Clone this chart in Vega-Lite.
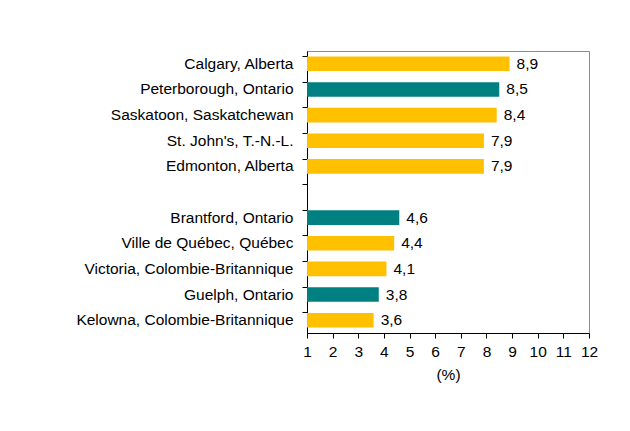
{
  "$schema": "https://vega.github.io/schema/vega-lite/v6.json",
  "width": 282,
  "height": 282,
  "autosize": {"type": "none"},
  "padding": {"left": 307, "top": 51, "right": 41, "bottom": 98},
  "background": "white",
  "config": {
    "view": {"stroke": "#8c8c8c", "strokeWidth": 1},
    "font": "Liberation Sans",
    "axisX": {"labelOverlap": false, "labelFlush": false},
    "locale": {"number": {"decimal": ",", "thousands": " ", "grouping": [3], "currency": ["", " $"]}}
  },
  "data": {
    "values": [
      {"city": "Calgary, Alberta\u00a0", "v": 8.9, "prov": "Autre"},
      {"city": "Peterborough, Ontario", "v": 8.5, "prov": "Ontario"},
      {"city": "Saskatoon, Saskatchewan\u00a0", "v": 8.4, "prov": "Autre"},
      {"city": "St. John's, T.-N.-L.", "v": 7.9, "prov": "Autre"},
      {"city": "Edmonton, Alberta\u00a0", "v": 7.9, "prov": "Autre"},
      {"city": "Brantford, Ontario\u00a0", "v": 4.6, "prov": "Ontario"},
      {"city": "Ville de Québec, Québec", "v": 4.4, "prov": "Autre"},
      {"city": "Victoria, Colombie-Britannique", "v": 4.1, "prov": "Autre"},
      {"city": "Guelph, Ontario\u00a0", "v": 3.8, "prov": "Ontario"},
      {"city": "Kelowna, Colombie-Britannique", "v": 3.6, "prov": "Autre"}
    ]
  },
  "encoding": {
    "y": {
      "field": "city",
      "type": "nominal",
      "scale": {
        "domain": ["Calgary, Alberta\u00a0", "Peterborough, Ontario", "Saskatoon, Saskatchewan\u00a0", "St. John's, T.-N.-L.", "Edmonton, Alberta\u00a0", "_gap", "Brantford, Ontario\u00a0", "Ville de Québec, Québec", "Victoria, Colombie-Britannique", "Guelph, Ontario\u00a0", "Kelowna, Colombie-Britannique"],
        "paddingInner": 0.43,
        "paddingOuter": 0.215
      },
      "axis": {
        "title": null,
        "labelExpr": "datum.value == '_gap' ? '' : datum.value",
        "labelFontSize": 15.5,
        "labelColor": "#000000",
        "labelPadding": 9,
        "labelLimit": 300,
        "bandPosition": 0,
        "tickSize": 5,
        "tickColor": "#000000",
        "domainColor": "#000000",
        "grid": false
      }
    },
    "x": {
      "field": "v",
      "type": "quantitative",
      "scale": {"domain": [1, 12], "zero": false, "nice": false},
      "axis": {
        "title": "(%)",
        "titleFontSize": 15.5,
        "titleFontWeight": "normal",
        "titleColor": "#000000",
        "titlePadding": 8,
        "values": [1, 2, 3, 4, 5, 6, 7, 8, 9, 10, 11, 12],
        "labelExpr": "datum.value",
        "labelOverlap": false,
        "labelFlush": false,
        "labelFontSize": 15.5,
        "labelColor": "#000000",
        "labelPadding": 6,
        "tickSize": 5,
        "tickColor": "#000000",
        "domainColor": "#000000",
        "grid": false
      }
    }
  },
  "layer": [
    {
      "mark": {"type": "bar"},
      "encoding": {
        "x2": {"datum": 1},
        "color": {
          "field": "prov",
          "type": "nominal",
          "scale": {"domain": ["Autre", "Ontario"], "range": ["#FFC000", "#008080"]},
          "legend": null
        }
      }
    },
    {
      "mark": {"type": "text", "align": "left", "baseline": "middle", "dx": 7, "fontSize": 15.5, "color": "#000000"},
      "encoding": {
        "text": {"field": "v", "type": "quantitative", "format": ".1f"}
      }
    }
  ]
}
